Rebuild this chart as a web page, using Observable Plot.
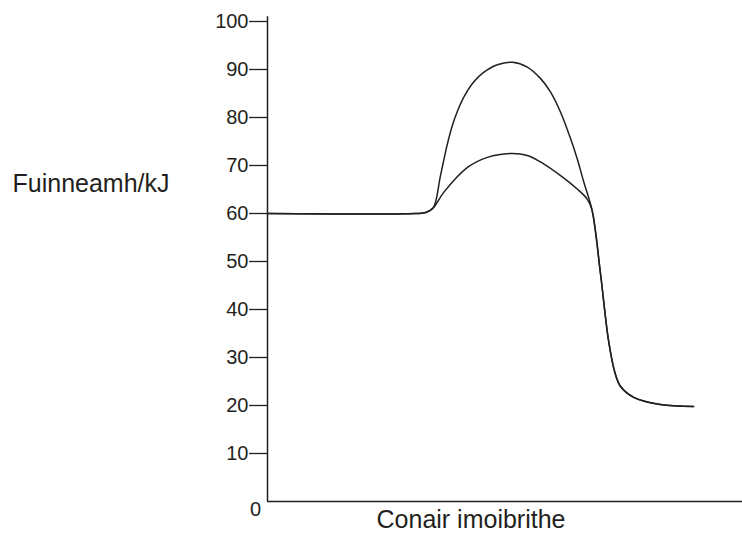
<!DOCTYPE html>
<html><head><meta charset="utf-8">
<script src="https://cdn.jsdelivr.net/npm/d3@7"></script>
<script src="https://cdn.jsdelivr.net/npm/@observablehq/plot@0.6"></script>
<style>body{margin:0;background:#fff} svg{display:block}</style>
</head><body><div id="chart"></div>
<script>
// Y axis tick values (energy, kJ)
const yTicks = [10, 20, 30, 40, 50, 60, 70, 80, 90, 100];
const yLabel = "Fuinneamh/kJ";
const xLabel = "Conair imoibrithe";

// Reaction progress (0–100) and energy values
const startX = [0, 31.2, 33.3, 34.9];
const startY = [60, 60, 60.2, 61.2];

const upperX = [36.4, 37.8, 38.9, 39.9, 41.3, 43.4, 45.5, 48.4, 51.6, 54.7, 57.5, 59.6, 61.7, 63.8, 65.2, 66.6];
const upperY = [67.8, 74.2, 78.3, 81.1, 84.2, 87.4, 89.4, 91.0, 91.5, 90.5, 88.1, 85.3, 81.1, 75.6, 71.4, 66.5];

const lowerX = [37.1, 42.1, 46.3, 51.2, 54.7, 58.2, 61.7, 65.2, 67.3];
const lowerY = [64.4, 69.6, 71.7, 72.5, 72.1, 70.3, 67.9, 65.1, 63.0];

const endX = [68.3, 70.1, 71.8, 73.1, 74.3, 77.1, 82.7, 89.7];
const endY = [60.8, 47.5, 33.5, 27.0, 24.0, 21.7, 20.2, 19.8];

function path(name, hx, hy) {
  const xs = [...startX, ...hx, ...endX];
  const ys = [...startY, ...hy, ...endY];
  return xs.map((x, i) => ({series: name, x, y: ys[i]}));
}
const data = [...path("upper", upperX, upperY), ...path("lower", lowerX, lowerY)];

const ink = "#231f20";
const font = "'Liberation Sans', Arial, Helvetica, sans-serif";

const chart = Plot.plot({
  width: 742,
  height: 537,
  marginLeft: 267,
  marginRight: 0,
  marginTop: 21,
  marginBottom: 36,
  style: {fontFamily: font, color: ink, background: "#fff"},
  x: {domain: [0, 100], axis: null},
  y: {domain: [0, 100], axis: null},
  marks: [
    Plot.axisY({ticks: yTicks, tickSize: 18, tickPadding: 1, fontSize: 20, stroke: ink, strokeWidth: 1.3, fill: ink, label: null}),
    Plot.text([0], {x: 0, y: 0, text: d => String(d), dx: -12, dy: 8, fontSize: 20, fill: ink, textAnchor: "middle"}),
    Plot.ruleX([0], {y1: 0, y2: 101, stroke: ink, strokeWidth: 1.5}),
    Plot.ruleY([0], {x1: 0, x2: 100, stroke: ink, strokeWidth: 1.5}),
    Plot.line(data, {x: "x", y: "y", z: "series", curve: "catmull-rom", stroke: ink, strokeWidth: 1.5}),
    Plot.text([yLabel], {frameAnchor: "top-left", dx: -255, dy: 153, textAnchor: "start", fontSize: 25, fill: ink}),
    Plot.text([xLabel], {frameAnchor: "bottom", dx: -34, dy: 26, textAnchor: "middle", fontSize: 25, fill: ink})
  ]
});
document.getElementById("chart").append(chart);
</script>
</body></html>
